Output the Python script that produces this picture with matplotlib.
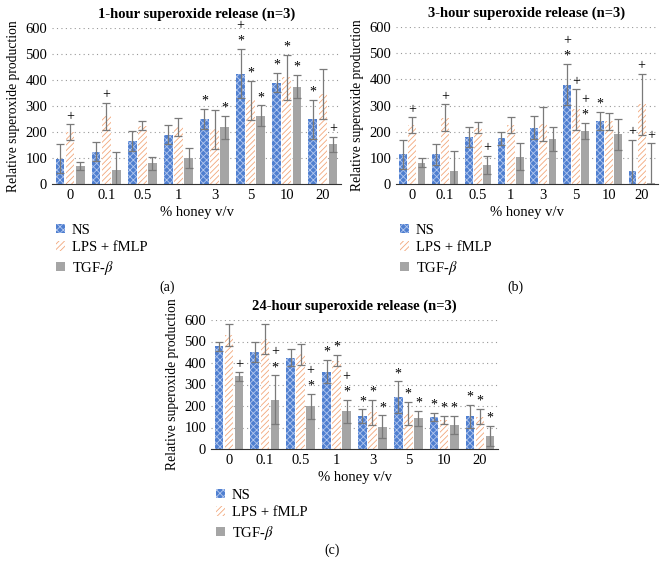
import numpy as np
import matplotlib
matplotlib.use("Agg")
import matplotlib.pyplot as plt
from matplotlib.patches import Patch

plt.rcParams['font.family'] = ['Liberation Serif', 'DejaVu Serif']
plt.rcParams['mathtext.fontset'] = 'stix'
plt.rcParams['hatch.linewidth'] = 0.6

# Data
honey = ['0', '0.1', '0.5', '1', '3', '5', '10', '20']
series = ['NS', 'LPS + fMLP', 'TGF-$\\beta$']

# 1-hour
h1_ns = [97, 125, 165, 190, 250, 425, 390, 250]
h1_ns_err = [55, 35, 38, 36, 40, 93, 38, 75]
h1_lps = [200, 260, 225, 218, 210, 322, 410, 345]
h1_lps_err = [30, 52, 18, 35, 75, 75, 87, 96]
h1_tgf = [68, 52, 80, 100, 218, 263, 375, 152]
h1_tgf_err = [16, 70, 25, 40, 44, 39, 43, 30]
h1_ann_ns = ['', '', '', '', '*', '+\n*', '*', '*']
h1_ann_lps = ['+', '+', '', '', '', '*', '*', '']
h1_ann_tgf = ['', '', '', '', '*', '*', '*', '+']

# 3-hour
h3_ns = [113, 113, 180, 175, 215, 380, 242, 50]
h3_ns_err = [57, 39, 38, 25, 43, 78, 35, 120]
h3_lps = [225, 253, 215, 225, 230, 285, 240, 305]
h3_lps_err = [30, 52, 21, 30, 65, 78, 33, 117]
h3_tgf = [82, 50, 72, 105, 172, 202, 190, 2]
h3_tgf_err = [18, 75, 35, 50, 46, 30, 60, 153]
h3_ann_ns = ['', '', '', '', '', '+\n*', '*', '+']
h3_ann_lps = ['+', '+', '', '', '', '+', '', '+']
h3_ann_tgf = ['', '', '+', '', '', '+\n*', '', '+']

# 24-hour
h24_ns = [478, 452, 425, 360, 152, 240, 148, 153]
h24_ns_err = [22, 48, 41, 53, 32, 74, 20, 53]
h24_lps = [530, 512, 440, 410, 170, 165, 135, 150]
h24_lps_err = [52, 70, 50, 26, 58, 55, 20, 35]
h24_tgf = [338, 230, 198, 175, 104, 142, 113, 60]
h24_tgf_err = [20, 112, 57, 53, 52, 36, 42, 47]
h24_ann_ns = ['', '', '', '*', '*', '*', '*', '*']
h24_ann_lps = ['', '', '', '*', '*', '*', '*', '*']
h24_ann_tgf = ['+', '+\n*', '+\n*', '+\n*', '*', '*', '*', '*']

W, H = 667, 575
fig = plt.figure(figsize=(W / 100, H / 100), dpi=100)


def ax_at(x0, x1, y_bottom, y_top):
    return fig.add_axes([x0 / W, 1 - y_bottom / H, (x1 - x0) / W, (y_bottom - y_top) / H])


styles = [
    dict(facecolor='#4F7FD0', edgecolor='#B4C8EE', hatch='xxxxx'),
    dict(facecolor='white', edgecolor='#F2A77A', hatch='//////'),
    dict(facecolor='#A5A5A5', edgecolor='#A5A5A5', hatch=None),
]


def draw_panel(ax, title, vals, errs, anns):
    x = np.arange(len(honey))
    w = 0.24
    for i, (v, e, a) in enumerate(zip(vals, errs, anns)):
        pos = x + (i - 1) * (w + 0.04)
        ax.bar(pos, v, width=w, linewidth=0, zorder=2, **styles[i])
        ax.errorbar(pos, v, yerr=e, fmt='none', ecolor='#7a7a7a',
                    elinewidth=0.9, capsize=3, capthick=0.9, zorder=3)
        for p, top, lab in zip(pos, np.array(v) + np.array(e), a):
            if lab:
                ax.annotate(lab, (p, top), xytext=(0, 1), textcoords='offset points',
                            ha='center', va='bottom', fontsize=10, linespacing=1.25)
    ax.set_xlim(-0.5, len(honey) - 0.5)
    ax.set_ylim(0, 600)
    ax.set_yticks(range(0, 601, 100))
    ax.set_xticks(x)
    ax.set_xticklabels(honey)
    ax.tick_params(length=0, labelsize=10.5)
    ax.yaxis.grid(True, linestyle=(0, (1, 3)), color='#999999', linewidth=0.8)
    ax.set_axisbelow(True)
    for s in ['top', 'right', 'left']:
        ax.spines[s].set_visible(False)
    ax.spines['bottom'].set_color('#333333')
    ax.set_title(title, fontsize=10.5, fontweight='bold', pad=7)
    ax.set_ylabel('Relative superoxide production', fontsize=9.8, labelpad=4)
    ax.set_xlabel('% honey v/v', fontsize=10.5, labelpad=3)


ax_a = ax_at(52, 341, 184, 28)
draw_panel(ax_a, '1-hour superoxide release (n=3)',
           [h1_ns, h1_lps, h1_tgf], [h1_ns_err, h1_lps_err, h1_tgf_err],
           [h1_ann_ns, h1_ann_lps, h1_ann_tgf])
ax_b = ax_at(396, 658, 184, 27)
draw_panel(ax_b, '3-hour superoxide release (n=3)',
           [h3_ns, h3_lps, h3_tgf], [h3_ns_err, h3_lps_err, h3_tgf_err],
           [h3_ann_ns, h3_ann_lps, h3_ann_tgf])
ax_c = ax_at(211, 498, 449, 320)
draw_panel(ax_c, '24-hour superoxide release (n=3)',
           [h24_ns, h24_lps, h24_tgf], [h24_ns_err, h24_lps_err, h24_tgf_err],
           [h24_ann_ns, h24_ann_lps, h24_ann_tgf])

handles = [Patch(**styles[i], linewidth=0, label=series[i]) for i in range(3)]
for lx, ly in [(50, 218), (394, 218), (210, 483)]:
    fig.legend(handles=handles, loc='upper left', bbox_to_anchor=(lx / W, 1 - ly / H),
               frameon=False, fontsize=10.5, handlelength=0.6, handleheight=0.6,
               handletextpad=0.5, labelspacing=0.3, borderaxespad=0)

for lab, lx, ly in [('(a)', 167, 287), ('(b)', 515, 287), ('(c)', 332, 550)]:
    fig.text(lx / W, 1 - ly / H, lab, ha='center', va='center', fontsize=10)

fig.savefig('out.png', dpi=100, facecolor='white')
